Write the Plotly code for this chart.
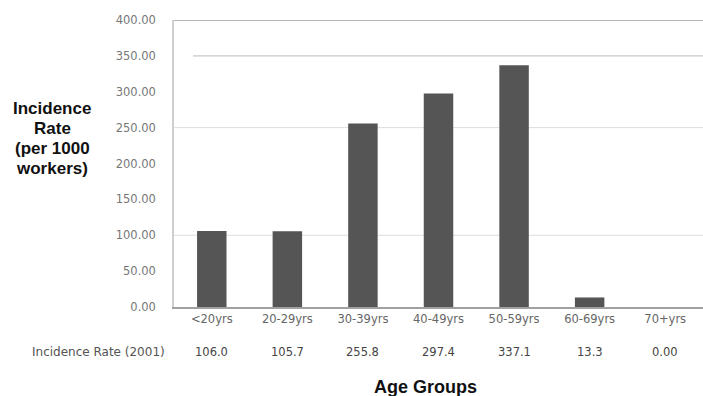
import plotly.graph_objects as go

# Incidence rate per 1000 workers, by age group (2001)
age_groups = ["<20yrs", "20-29yrs", "30-39yrs", "40-49yrs", "50-59yrs", "60-69yrs", "70+yrs"]
incidence_rate = [106.0, 105.7, 255.8, 297.4, 337.1, 13.3, 0.00]
table_labels = ["106.0", "105.7", "255.8", "297.4", "337.1", "13.3", "0.00"]
table_caption = "Incidence Rate (2001)"
y_title_lines = ["Incidence", "Rate", "(per 1000", "workers)"]
y_ticks = [0, 50, 100, 150, 200, 250, 300, 350, 400]

SMALL = "DejaVu Sans, Verdana, sans-serif"
BOLD = "Liberation Sans, Arial, sans-serif"

# plot-area geometry in pixels
L, T, W, H = 174, 20, 529, 287


def px_x(x):
    return (x - L) / W


def px_y(y):
    return (T + H - y) / H


fig = go.Figure(
    go.Bar(
        x=age_groups,
        y=incidence_rate,
        marker=dict(color="#555555", line=dict(width=0)),
        width=0.39,
        hoverinfo="skip",
    )
)

annotations = []
# data-table row under the category labels
for g, t in zip(age_groups, table_labels):
    annotations.append(dict(x=g, y=px_y(352), xref="x", yref="paper", text=t, showarrow=False,
                            font=dict(family=SMALL, size=11.5, color="#444444"),
                            xanchor="center", yanchor="middle"))
annotations.append(dict(x=px_x(167), y=px_y(352), xref="paper", yref="paper",
                        xanchor="right", yanchor="middle", text=table_caption, showarrow=False,
                        font=dict(family=SMALL, size=12, color="#555555")))

# x-axis title
annotations.append(dict(x=px_x(425), y=px_y(387), xref="paper", yref="paper",
                        xanchor="center", yanchor="middle", showarrow=False,
                        text="<b>Age Groups</b>", font=dict(family=BOLD, size=18, color="#111111")))

# y-axis title, one line per annotation for wider line spacing
for line, yc in zip(y_title_lines, [108, 128, 148, 168]):
    annotations.append(dict(x=px_x(52), y=px_y(yc), xref="paper", yref="paper",
                            xanchor="center", yanchor="middle", showarrow=False,
                            text="<b>%s</b>" % line, font=dict(family=BOLD, size=17, color="#111111")))

shapes = [
    dict(type="line", xref="paper", yref="y", x0=0, x1=1, y0=100, y1=100,
         line=dict(color="#dddddd", width=1), layer="below"),
    dict(type="line", xref="paper", yref="y", x0=0, x1=1, y0=250, y1=250,
         line=dict(color="#dddddd", width=1), layer="below"),
    dict(type="line", xref="paper", yref="y", x0=0.036, x1=1, y0=350, y1=350,
         line=dict(color="#c8c8c8", width=1.2), layer="below"),
    dict(type="line", xref="paper", yref="y", x0=0, x1=1, y0=400, y1=400,
         line=dict(color="#9a9a9a", width=1.5)),
]

fig.update_layout(
    width=703, height=396,
    margin=dict(l=L, r=0, t=T, b=396 - T - H),
    plot_bgcolor="white", paper_bgcolor="white",
    showlegend=False,
    annotations=annotations,
    shapes=shapes,
    xaxis=dict(
        type="category", range=[-0.5, 6.5],
        showgrid=False, zeroline=False,
        showline=True, linecolor="#a0a0a0", linewidth=1.5,
        ticks="", tickfont=dict(family=SMALL, size=11.5, color="#666666"),
    ),
    yaxis=dict(
        range=[0, 400], tickvals=y_ticks, tickformat=".2f",
        showgrid=False, zeroline=False,
        showline=True, linecolor="#cfcfcf", linewidth=1.5,
        ticks="", ticklabelstandoff=14,
        tickfont=dict(family=SMALL, size=11.5, color="#777777"),
    ),
)

fig.write_html("out.html")
